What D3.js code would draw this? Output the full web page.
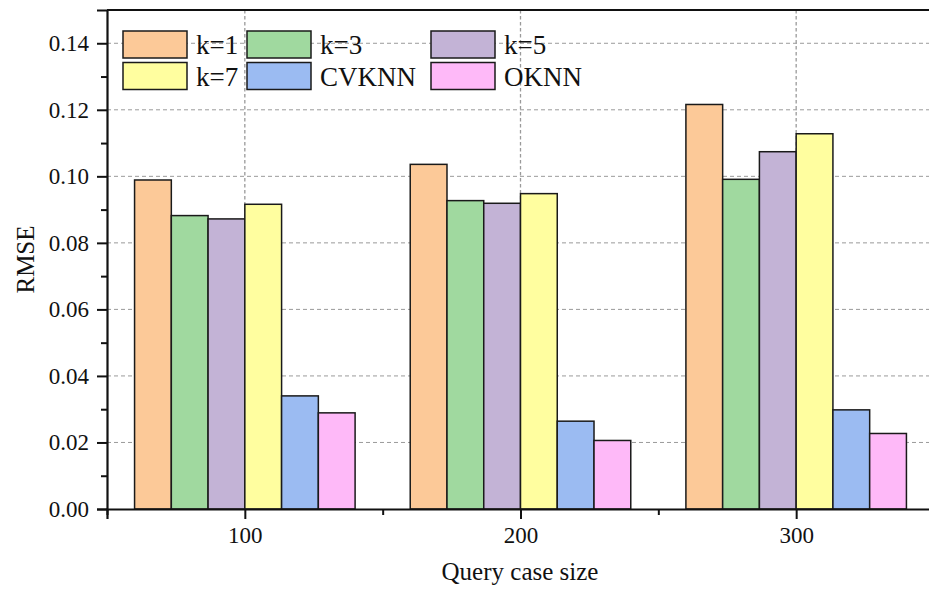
<!DOCTYPE html>
<html><head><meta charset="utf-8">
<script src="https://cdn.jsdelivr.net/npm/d3@7"></script>
<style>body{margin:0;background:#fff}svg{display:block}svg text{font-family:"Liberation Serif","Times New Roman",serif !important;fill:#111}</style>
</head><body>
<script>
const categories = [100, 200, 300];
const seriesNames = ["k=1", "k=3", "k=5", "k=7", "CVKNN", "OKNN"];
const s_k1 = [0.0989, 0.1036, 0.1216];
const s_k3 = [0.0882, 0.0927, 0.0991];
const s_k5 = [0.0872, 0.0919, 0.1074];
const s_k7 = [0.0916, 0.0948, 0.1128];
const s_cvknn = [0.0340, 0.0264, 0.0298];
const s_oknn = [0.0289, 0.0206, 0.0227];
const seriesValues = [s_k1, s_k3, s_k5, s_k7, s_cvknn, s_oknn];
const colors = ["#FCC998", "#A0D99F", "#C3B3D6", "#FFFE9F", "#9BBBF2", "#FEB9F8"];
const yTicks = [0, 0.02, 0.04, 0.06, 0.08, 0.10, 0.12, 0.14];
const yMinor = [0.01, 0.03, 0.05, 0.07, 0.09, 0.11, 0.13];
const xMinor = [50, 150, 250, 350];

const W = 929, H = 589;
const L = 107, T = 10, R = 934, B = 509;
const FONT = '"Liberation Serif","Times New Roman",serif';
const svg = d3.select("body").append("svg").attr("width", W).attr("height", H)
  .attr("font-family", FONT);

const x = d3.scaleLinear().domain([50, 350]).range([L, R]);
const y = d3.scaleLinear().domain([0, 0.15]).range([B, T]);
const catW = x(150) - x(50);
const inner = d3.scaleBand().domain(seriesNames).range([-catW * 0.4, catW * 0.4]).padding(0);

// gridlines
const grid = svg.append("g");
grid.selectAll("line.h").data(yTicks.filter(d => d > 0)).join("line")
  .attr("x1", L).attr("x2", R).attr("y1", d => y(d)).attr("y2", d => y(d))
  .attr("stroke", "#9a9a9a").attr("stroke-width", 1).attr("stroke-dasharray", "4,3");
grid.selectAll("line.v").data(categories).join("line")
  .attr("x1", d => x(d)).attr("x2", d => x(d)).attr("y1", T).attr("y2", B)
  .attr("stroke", "#9a9a9a").attr("stroke-width", 1.3).attr("stroke-dasharray", "3.5,2.5");

// bars
const flat = [];
categories.forEach((c, i) => seriesNames.forEach((s, j) => flat.push({c, s, v: seriesValues[j][i], col: colors[j]})));
svg.append("g").selectAll("rect").data(flat).join("rect")
  .attr("x", d => x(d.c) + inner(d.s))
  .attr("width", inner.bandwidth())
  .attr("y", d => y(d.v))
  .attr("height", d => y(0) - y(d.v))
  .attr("fill", d => d.col)
  .attr("stroke", "#1a1a1a").attr("stroke-width", 1.5);

// axes
const fs = 23;
const yAxis = d3.axisLeft(y).tickValues(yTicks).tickFormat(d3.format(".2f")).tickSize(10).tickPadding(8);
const gy = svg.append("g").attr("transform", `translate(${L},0)`).call(yAxis);
const yMinorAxis = d3.axisLeft(y).tickValues(yMinor).tickFormat("").tickSize(6);
const gym = svg.append("g").attr("transform", `translate(${L},0)`).call(yMinorAxis);
gym.select(".domain").remove();

const xAxis = d3.axisBottom(x).tickValues(categories).tickFormat(d3.format("d")).tickSize(10).tickPadding(8);
const gx = svg.append("g").attr("transform", `translate(0,${B})`).call(xAxis);
const xMinorAxis = d3.axisBottom(x).tickValues(xMinor).tickFormat("").tickSize(6);
const gxm = svg.append("g").attr("transform", `translate(0,${B})`).call(xMinorAxis);
gxm.select(".domain").remove();

[gy, gym, gx, gxm].forEach(g => {
  g.attr("font-family", FONT).attr("font-size", fs);
  g.selectAll("text").attr("font-family", FONT).attr("font-size", fs);
  g.selectAll("line").attr("stroke", "#111").attr("stroke-width", 2);
  g.selectAll(".domain").attr("stroke", "#111").attr("stroke-width", 2.2);
});
// top border
svg.append("line").attr("x1", L).attr("x2", R).attr("y1", T).attr("y2", T)
  .attr("stroke", "#111").attr("stroke-width", 2.2);
svg.append("line").attr("x1", R).attr("x2", R).attr("y1", T).attr("y2", B)
  .attr("stroke", "#111").attr("stroke-width", 2.2);

// axis titles
svg.append("text").attr("x", 520).attr("y", 580).attr("text-anchor", "middle")
  .attr("font-size", 25).text("Query case size");
svg.append("text").attr("transform", `translate(34,${(T + B) / 2}) rotate(-90)`).attr("text-anchor", "middle")
  .attr("font-size", 25).text("RMSE");

// legend
const colX = [123, 247, 431];
const rowY = [31, 62.5];
const lg = svg.append("g");
seriesNames.forEach((s, i) => {
  const cx = colX[i % 3], ry = rowY[Math.floor(i / 3)];
  lg.append("rect").attr("x", cx).attr("y", ry).attr("width", 64).attr("height", 27)
    .attr("fill", colors[i]).attr("stroke", "#1a1a1a").attr("stroke-width", 1.5);
  lg.append("text").attr("x", cx + 73).attr("y", ry + 23).attr("font-size", 27).text(s);
});
</script>
</body></html>
